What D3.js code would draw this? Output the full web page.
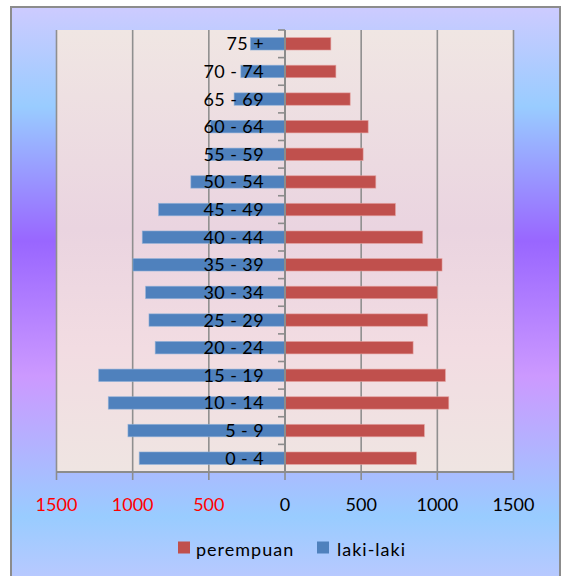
<!DOCTYPE html>
<html>
<head>
<meta charset="utf-8">
<script src="https://cdn.jsdelivr.net/npm/d3@7"></script>
<style>
  html, body { margin: 0; padding: 0; background: #ffffff; }
  svg { display: block; }
  text { font-family: Lato, "Open Sans", sans-serif; }
</style>
</head>
<body>
<svg id="chart" width="563" height="576"></svg>
<script>
// Age groups, bottom to top
const ageGroups = ["0 - 4", "5 - 9", "10 - 14", "15 - 19", "20 - 24", "25 - 29",
  "30 - 34", "35 - 39", "40 - 44", "45 - 49", "50 - 54", "55 - 59",
  "60 - 64", "65 - 69", "70 - 74", "75 +"];
// Population by sex
const lakiLaki = [957, 1031, 1160, 1223, 852, 893, 915, 998, 937, 830, 618, 505, 490, 334, 290, 227];
const perempuan = [863, 915, 1075, 1053, 841, 937, 1000, 1031, 904, 725, 596, 513, 546, 428, 334, 301];
// Axis ticks
const xTicks = [-1500, -1000, -500, 0, 500, 1000, 1500];
const seriesNames = ["perempuan", "laki-laki"];

const colors = { perempuan: "#c0504d", laki: "#4f81bd" };
const svg = d3.select("#chart");
const W = 563, H = 576;
const plot = { left: 56.5, right: 513.5, top: 30, bottom: 472 };

const defs = svg.append("defs");
const outerGrad = defs.append("linearGradient")
  .attr("id", "outerGrad").attr("x1", 0).attr("y1", 0).attr("x2", 0).attr("y2", 1);
[[0, "#cdcbff"], [0.17, "#99ccff"], [0.40, "#9966ff"], [0.63, "#cc99ff"],
 [0.87, "#99ccff"], [1, "#c0c8ff"]].forEach(([o, c]) =>
  outerGrad.append("stop").attr("offset", o).attr("stop-color", c));

const plotGrad = defs.append("linearGradient")
  .attr("id", "plotGrad").attr("x1", 0).attr("y1", 0).attr("x2", 0).attr("y2", 1);
[[0, "#f0e6e3"], [0.45, "#ead4e0"], [0.72, "#f2dce2"], [1, "#efe5e2"]].forEach(([o, c]) =>
  plotGrad.append("stop").attr("offset", o).attr("stop-color", c));

// Chart area frame
svg.append("rect")
  .attr("x", 11).attr("y", 7).attr("width", 549).attr("height", H + 10)
  .attr("fill", "url(#outerGrad)")
  .attr("stroke", "#8c8c8c").attr("stroke-width", 2);

// Plot area
svg.append("rect")
  .attr("x", plot.left).attr("y", plot.top)
  .attr("width", plot.right - plot.left).attr("height", plot.bottom - plot.top)
  .attr("fill", "url(#plotGrad)");

const x = d3.scaleLinear().domain([-1500, 1500]).range([plot.left, plot.right]);
const y = d3.scaleBand()
  .domain(ageGroups.slice().reverse())
  .range([plot.top, plot.bottom])
  .paddingInner(0.55).paddingOuter(0.275);

// Vertical gridlines
svg.append("g").selectAll("line")
  .data(xTicks.filter(d => d !== 0))
  .join("line")
  .attr("x1", d => x(d)).attr("x2", d => x(d))
  .attr("y1", plot.top).attr("y2", plot.bottom)
  .attr("stroke", "#8f8f8f").attr("stroke-width", 1.6);

const rows = ageGroups.map((g, i) => ({ g, laki: lakiLaki[i], per: perempuan[i] }));

// Bars: male to the left, female to the right
svg.append("g").selectAll("rect")
  .data(rows)
  .join("rect")
  .attr("x", d => x(-d.laki)).attr("y", d => y(d.g))
  .attr("width", d => x(0) - x(-d.laki)).attr("height", y.bandwidth())
  .attr("fill", colors.laki)
  .attr("stroke", "#8fb0d8").attr("stroke-width", 0.8).attr("stroke-opacity", 0.7);

svg.append("g").selectAll("rect")
  .data(rows)
  .join("rect")
  .attr("x", x(0)).attr("y", d => y(d.g))
  .attr("width", d => x(d.per) - x(0)).attr("height", y.bandwidth())
  .attr("fill", colors.perempuan)
  .attr("stroke", "#e4a3a1").attr("stroke-width", 0.8).attr("stroke-opacity", 0.7);

// Category axis along zero
const step = y.step();
const boundaries = d3.range(ageGroups.length + 1).map(i => plot.top + i * step);
const yAxisG = svg.append("g");
yAxisG.append("line")
  .attr("x1", x(0)).attr("x2", x(0)).attr("y1", plot.top).attr("y2", plot.bottom)
  .attr("stroke", "#8c8c8c").attr("stroke-width", 2);
yAxisG.selectAll("line.tick")
  .data(boundaries)
  .join("line").attr("class", "tick")
  .attr("x1", x(0) - 7).attr("x2", x(0))
  .attr("y1", d => d).attr("y2", d => d)
  .attr("stroke", "#8c8c8c").attr("stroke-width", 1.6);
yAxisG.selectAll("text")
  .data(ageGroups)
  .join("text")
  .attr("x", x(0) - 21)
  .attr("y", d => y(d) + y.bandwidth() / 2)
  .attr("dy", "0.36em")
  .attr("text-anchor", "end")
  .attr("font-size", 18)
  .attr("letter-spacing", 0.4)
  .attr("fill", "#000")
  .text(d => d);

// Value axis at the bottom
const xAxisG = svg.append("g");
xAxisG.append("line")
  .attr("x1", plot.left).attr("x2", plot.right)
  .attr("y1", plot.bottom).attr("y2", plot.bottom)
  .attr("stroke", "#8c8c8c").attr("stroke-width", 2);
xAxisG.selectAll("line.tick")
  .data(xTicks)
  .join("line").attr("class", "tick")
  .attr("x1", d => x(d)).attr("x2", d => x(d))
  .attr("y1", plot.bottom).attr("y2", plot.bottom + 8)
  .attr("stroke", "#8c8c8c").attr("stroke-width", 1.6);
xAxisG.selectAll("text")
  .data(xTicks)
  .join("text")
  .attr("x", d => x(d))
  .attr("y", 510.5)
  .attr("text-anchor", "middle")
  .attr("font-size", 18)
  .attr("fill", d => d < 0 ? "#ff0000" : "#000")
  .text(d => Math.abs(d));

// Legend
const legend = svg.append("g");
const legendItems = [
  { name: seriesNames[0], color: colors.perempuan, sx: 178, tx: 196 },
  { name: seriesNames[1], color: colors.laki, sx: 317, tx: 337 }
];
legendItems.forEach(it => {
  legend.append("rect")
    .attr("x", it.sx).attr("y", 541.5).attr("width", 12).attr("height", 12)
    .attr("fill", it.color);
  legend.append("text")
    .attr("x", it.tx).attr("y", 555.5)
    .attr("font-size", 18)
    .attr("letter-spacing", 1)
    .attr("fill", "#000")
    .text(it.name);
});
</script>
</body>
</html>
